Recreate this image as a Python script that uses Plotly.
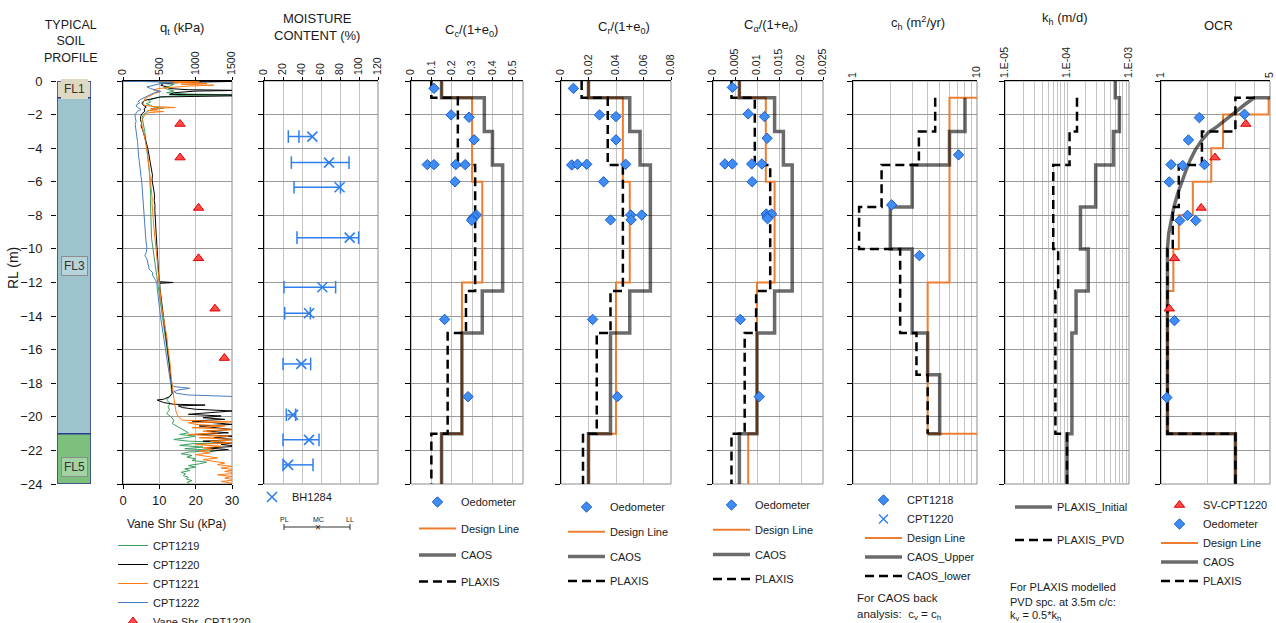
import math
import plotly.graph_objects as go

# ---------------------------------------------------------------- data
SOIL_NAME = ["FL1", "FL3", "FL5"]
SOIL_TOP = [0, -1, -21]
SOIL_BOT = [-1, -21, -24]
SOIL_LABEL_RL = [-0.5, -11, -23]
SOIL_FILL = ["#ddd9c3", "#9dc3cd", "#7dbf7d"]
SOIL_LABEL_BG = ["#ddd9c3", "#b7d4db", "#a3d2a3"]

# CPT cone resistance profiles: (RL m, qt kPa)
CPT1219 = [(0.0, 300), (-0.05, 600), (-0.12, 500), (-0.2, 700), (-0.3, 650), (-0.4, 560), (-0.5, 620),
           (-0.6, 700), (-0.7, 600), (-0.78, 900), (-0.82, 1600), (-0.86, 800), (-0.95, 500), (-1.05, 420),
           (-1.15, 350), (-1.25, 380), (-1.35, 320), (-1.45, 380), (-1.55, 420), (-1.62, 560), (-1.7, 400),
           (-1.8, 340), (-1.9, 300), (-2.0, 280), (-2.2, 265), (-2.4, 270), (-2.6, 285), (-2.8, 290),
           (-3.0, 300), (-3.3, 305), (-3.6, 315), (-3.9, 320), (-4.2, 330), (-4.5, 340), (-4.8, 350),
           (-5.1, 355), (-5.4, 362), (-5.7, 368), (-6.0, 372), (-6.3, 378), (-6.6, 385), (-6.9, 382),
           (-7.2, 378), (-7.5, 380), (-7.8, 376), (-8.1, 378), (-8.4, 382), (-8.7, 380), (-9.0, 384),
           (-9.3, 392), (-9.6, 400), (-9.9, 410), (-10.2, 420), (-10.5, 432), (-10.8, 440), (-11.1, 448),
           (-11.4, 458), (-11.7, 468), (-12.0, 478), (-12.4, 490), (-12.8, 500), (-13.2, 515), (-13.6, 525),
           (-14.0, 538), (-14.4, 552), (-14.8, 565), (-15.2, 578), (-15.6, 595), (-16.0, 610), (-16.4, 622),
           (-16.8, 632), (-17.2, 640), (-17.6, 648), (-18.0, 655), (-18.3, 662), (-18.6, 670), (-18.8, 640),
           (-19.0, 600), (-19.2, 650), (-19.4, 620), (-19.6, 640), (-19.8, 600), (-20.0, 660), (-20.2, 700),
           (-20.4, 680), (-20.6, 760), (-20.8, 820), (-20.95, 900), (-21.05, 780), (-21.15, 1000),
           (-21.25, 850), (-21.35, 700), (-21.45, 900), (-21.55, 1600), (-21.6, 950), (-21.7, 780),
           (-21.8, 1100), (-21.9, 850), (-22.0, 1300), (-22.1, 900), (-22.2, 800), (-22.3, 950), (-22.4, 880),
           (-22.5, 1000), (-22.6, 950), (-22.7, 1150), (-22.8, 1050), (-22.9, 900), (-23.0, 1000),
           (-23.1, 850), (-23.2, 920), (-23.3, 800), (-23.4, 860), (-23.5, 830), (-23.6, 900), (-23.7, 870),
           (-23.8, 950), (-23.9, 880), (-24.0, 920)]

CPT1220 = [(0.0, 0), (-0.02, 1600), (-0.08, 820), (-0.15, 560), (-0.25, 520), (-0.35, 600), (-0.45, 640),
           (-0.52, 900), (-0.56, 1600), (-0.6, 1000), (-0.7, 700), (-0.8, 640), (-0.84, 1600), (-0.88, 1600),
           (-0.95, 520), (-1.05, 380), (-1.15, 300), (-1.3, 260), (-1.45, 280), (-1.55, 320), (-1.65, 290),
           (-1.8, 300), (-1.95, 260), (-2.1, 245), (-2.3, 240), (-2.5, 255), (-2.7, 250), (-2.9, 270),
           (-3.1, 285), (-3.3, 300), (-3.5, 310), (-3.7, 325), (-3.9, 335), (-4.1, 345), (-4.4, 355),
           (-4.7, 370), (-5.0, 385), (-5.3, 395), (-5.6, 405), (-5.9, 400), (-6.2, 415), (-6.5, 425),
           (-6.8, 435), (-7.1, 430), (-7.4, 440), (-7.7, 438), (-8.0, 445), (-8.4, 448), (-8.8, 452),
           (-9.2, 458), (-9.6, 465), (-10.0, 470), (-10.4, 475), (-10.8, 478), (-11.2, 485), (-11.6, 492),
           (-11.95, 498), (-12.0, 690), (-12.05, 505), (-12.4, 510), (-12.8, 522), (-13.2, 535), (-13.6, 548),
           (-14.0, 558), (-14.4, 570), (-14.8, 582), (-15.2, 595), (-15.6, 605), (-16.0, 615), (-16.4, 628),
           (-16.8, 638), (-17.2, 648), (-17.6, 655), (-18.0, 662), (-18.3, 672), (-18.6, 680), (-18.8, 640),
           (-18.95, 560), (-19.0, 470), (-19.05, 500), (-19.15, 560), (-19.25, 700), (-19.3, 1130),
           (-19.35, 760), (-19.45, 820), (-19.55, 1000), (-19.65, 1500), (-19.75, 1200), (-19.85, 900),
           (-19.95, 1350), (-20.05, 1100), (-20.15, 1400), (-20.25, 950), (-20.35, 1250), (-20.45, 1500),
           (-20.55, 1050), (-20.65, 1300), (-20.75, 1500), (-20.85, 1150), (-20.95, 1450), (-21.05, 1000),
           (-21.15, 1500), (-21.25, 1250), (-21.35, 1550), (-21.45, 1100), (-21.55, 1500), (-21.65, 1350),
           (-21.75, 1600), (-21.85, 1150), (-21.95, 1450), (-22.05, 1200)]

CPT1221 = [(0.0, 450), (-0.05, 1050), (-0.1, 700), (-0.15, 1150), (-0.2, 800), (-0.25, 1250), (-0.3, 900),
           (-0.38, 600), (-0.45, 480), (-0.55, 420), (-0.65, 500), (-0.75, 430), (-0.85, 380), (-0.95, 330),
           (-1.05, 300), (-1.2, 290), (-1.35, 275), (-1.45, 300), (-1.52, 420), (-1.58, 720), (-1.64, 380),
           (-1.7, 480), (-1.76, 340), (-1.82, 560), (-1.88, 360), (-1.95, 320), (-2.1, 290), (-2.3, 265),
           (-2.5, 255), (-2.7, 265), (-2.9, 270), (-3.1, 285), (-3.4, 300), (-3.7, 315), (-4.0, 328),
           (-4.3, 338), (-4.6, 345), (-4.9, 352), (-5.2, 360), (-5.5, 368), (-5.8, 375), (-6.1, 385),
           (-6.4, 392), (-6.7, 398), (-7.0, 402), (-7.3, 400), (-7.6, 408), (-7.9, 412), (-8.2, 416),
           (-8.5, 420), (-8.8, 428), (-9.1, 432), (-9.4, 440), (-9.7, 450), (-10.0, 458), (-10.3, 465),
           (-10.6, 470), (-10.9, 475), (-11.2, 480), (-11.5, 486), (-11.8, 492), (-12.1, 500), (-12.5, 508),
           (-12.9, 515), (-13.3, 528), (-13.7, 542), (-14.1, 558), (-14.5, 575), (-14.9, 595), (-15.3, 605),
           (-15.7, 612), (-16.1, 628), (-16.5, 642), (-16.9, 650), (-17.3, 655), (-17.7, 664), (-18.1, 672),
           (-18.5, 686), (-18.9, 700), (-19.3, 715), (-19.7, 730), (-20.0, 760), (-20.2, 820), (-20.3, 1500),
           (-20.35, 900), (-20.45, 1000), (-20.55, 1400), (-20.65, 950), (-20.75, 1600), (-20.85, 1100),
           (-20.95, 1300), (-21.05, 900), (-21.15, 1450), (-21.25, 1050), (-21.35, 1600), (-21.45, 1200),
           (-21.55, 1500), (-21.65, 1000), (-21.75, 1350), (-21.85, 1100), (-21.95, 1250), (-22.05, 1050),
           (-22.15, 1200), (-22.25, 1000), (-22.35, 1150), (-22.45, 1300), (-22.55, 1100), (-22.65, 1250),
           (-22.75, 1400), (-22.85, 1300), (-22.95, 1500), (-23.05, 1350), (-23.15, 1550), (-23.25, 1400),
           (-23.35, 1600), (-23.45, 1300), (-23.55, 1500), (-23.65, 1400), (-23.75, 1550), (-23.85, 1350),
           (-23.95, 1500), (-24.0, 1450)]

CPT1222 = [(0.0, 0), (-0.03, 350), (-0.08, 700), (-0.15, 520), (-0.25, 420), (-0.35, 330), (-0.45, 380),
           (-0.55, 450), (-0.62, 520), (-0.7, 430), (-0.8, 380), (-0.9, 330), (-1.0, 300), (-1.1, 240),
           (-1.2, 210), (-1.3, 230), (-1.4, 190), (-1.5, 180), (-1.6, 215), (-1.7, 250), (-1.8, 200),
           (-1.9, 175), (-2.0, 165), (-2.2, 170), (-2.4, 180), (-2.6, 168), (-2.8, 175), (-3.0, 185),
           (-3.3, 190), (-3.6, 200), (-3.9, 205), (-4.2, 208), (-4.5, 215), (-4.8, 225), (-5.1, 230),
           (-5.4, 238), (-5.7, 248), (-6.0, 258), (-6.3, 262), (-6.6, 268), (-6.9, 272), (-7.2, 276),
           (-7.5, 280), (-7.8, 284), (-8.1, 288), (-8.4, 292), (-8.7, 298), (-9.0, 305), (-9.3, 312),
           (-9.6, 318), (-9.9, 328), (-10.2, 320), (-10.4, 300), (-10.6, 330), (-10.9, 345), (-11.2, 360),
           (-11.4, 405), (-11.6, 410), (-11.8, 440), (-12.0, 465), (-12.4, 472), (-12.8, 480), (-13.2, 490),
           (-13.6, 505), (-14.0, 515), (-14.4, 530), (-14.8, 545), (-15.2, 555), (-15.6, 568), (-16.0, 582),
           (-16.4, 600), (-16.8, 620), (-17.2, 632), (-17.6, 645), (-18.0, 656), (-18.2, 700), (-18.3, 920),
           (-18.4, 760), (-18.5, 700), (-18.6, 740), (-18.7, 900), (-18.8, 1600)]

VANE_RL = [-2.56, -4.56, -7.56, -10.56, -13.56, -16.5]
VANE_SU = [15.7, 15.7, 20.8, 20.8, 25.3, 27.9]

# moisture content with plastic / liquid limits (BH1284)
MC_RL = [-3.31, -4.86, -6.33, -9.33, -12.28, -13.83, -16.85, -19.88, -21.37, -22.86]
MC_PL = [25.6, 28.8, 31.6, 34.7, 21.0, 21.8, 20.0, 23.5, 20.0, 20.0]
MC_W = [50.9, 68.4, 79.6, 90.2, 61.4, 47.4, 39.3, 30.5, 47.4, 25.3]
MC_LL = [36.8, 89.5, 80.5, 99.6, 75.4, 48.8, 49.1, 33.3, 57.9, 51.6]

# compression index
CC_OED_RL = [-0.44, -2.02, -2.16, -3.5, -4.98, -4.98, -4.98, -4.98, -6.0, -7.98, -8.08, -8.22, -8.3, -14.2, -18.8]
CC_OED = [0.113, 0.197, 0.285, 0.31, 0.08, 0.113, 0.22, 0.266, 0.216, 0.321, 0.31, 0.30, 0.298, 0.165, 0.28]
CC_DESIGN_RL = [0, -1, -6, -12, -21, -24]
CC_DESIGN = [0.15, 0.30, 0.35, 0.25, 0.15, 0.15]
CC_CAOS_RL = [0, -1, -3, -5, -12.5, -15, -21, -24]
CC_CAOS = [0.15, 0.36, 0.40, 0.45, 0.35, 0.25, 0.15, 0.15]
CC_PLAXIS_RL = [0, -1, -5, -12.5, -15, -21, -24]
CC_PLAXIS = [0.10, 0.23, 0.315, 0.27, 0.18, 0.10, 0.10]

# recompression index
CR_OED_RL = [-0.44, -2.02, -2.12, -3.5, -5.0, -4.96, -4.96, -4.96, -6.0, -7.98, -7.98, -8.27, -8.27, -14.2, -18.8]
CR_OED = [0.009, 0.028, 0.040, 0.040, 0.0078, 0.012, 0.0187, 0.047, 0.031, 0.0507, 0.0587, 0.051, 0.036, 0.023, 0.041]
CR_DESIGN_RL = [0, -1, -6, -12, -21, -24]
CR_DESIGN = [0.02, 0.045, 0.05, 0.04, 0.02, 0.02]
CR_CAOS_RL = [0, -1, -3, -5, -12.5, -15, -21, -24]
CR_CAOS = [0.02, 0.05, 0.0575, 0.065, 0.05, 0.036, 0.02, 0.02]
CR_PLAXIS_RL = [0, -1, -5, -12.5, -15, -21, -24]
CR_PLAXIS = [0.015, 0.034, 0.045, 0.036, 0.026, 0.016, 0.016]

# secondary compression index
CA_OED_RL = [-0.38, -1.96, -2.12, -3.41, -4.94, -4.94, -4.94, -4.94, -6.0, -7.92, -7.92, -8.1, -8.2, -14.2, -18.8]
CA_OED = [0.0044, 0.008, 0.0117, 0.0123, 0.0027, 0.0044, 0.0088, 0.0111, 0.0089, 0.0121, 0.0133, 0.0123, 0.0124, 0.0062, 0.0105]
CA_DESIGN_RL = [0, -1, -6, -12, -21, -24]
CA_DESIGN = [0.006, 0.012, 0.014, 0.010, 0.008, 0.008]
CA_CAOS_RL = [0, -1, -3, -5, -12.5, -15, -21, -24]
CA_CAOS = [0.006, 0.014, 0.016, 0.018, 0.014, 0.010, 0.006, 0.006]
CA_PLAXIS_RL = [0, -1, -5, -12.5, -15, -21, -24]
CA_PLAXIS = [0.0042, 0.0095, 0.013, 0.0098, 0.0072, 0.0042, 0.0042]

# horizontal coefficient of consolidation
CH_1218_RL = [-4.4, -7.38, -10.4]
CH_1218 = [7.1, 2.05, 3.43]
CH_1220_RL = [-14.4]
CH_1220 = [10.1]
CH_DESIGN_RL = [-1, -1, -12, -21]
CH_DESIGN = [10, 6, 4, 10]
CH_UPPER_RL = [-1, -3, -5, -7.5, -10, -15, -17.5, -21]
CH_UPPER = [8, 6, 3, 2, 3, 4, 5, 4]
CH_LOWER_RL = [-1, -3, -5, -7.5, -10, -15, -17.5, -21]
CH_LOWER = [4.6, 3.4, 1.7, 1.12, 2.4, 3.25, 4.0, 4.0]

# horizontal permeability
KH_INIT_RL = [0, -1, -3, -5, -7.5, -10, -12.5, -15, -21, -24]
KH_INIT = [6.0e-4, 7.0e-4, 5.6e-4, 2.9e-4, 1.65e-4, 2.2e-4, 1.4e-4, 1.2e-4, 1.0e-4, 1.0e-4]
KH_PVD_RL = [-1, -3, -5, -10, -12.5, -21, -24]
KH_PVD = [1.45e-4, 1.1e-4, 6.0e-5, 7.2e-5, 6.5e-5, 1.0e-4, 1.0e-4]

# over-consolidation ratio
OCR_SV_RL = [-2.56, -4.56, -7.56, -10.56, -13.56]
OCR_SV = [3.5, 2.22, 1.81, 1.22, 1.13]
OCR_OED_RL = [-1.98, -2.18, -3.51, -4.98, -5.04, -4.98, -6.01, -8.0, -8.31, -8.31, -14.27, -18.85]
OCR_OED = [3.43, 1.76, 1.5, 1.16, 1.38, 1.9, 1.13, 1.48, 1.32, 1.67, 1.22, 1.09]
OCR_DESIGN_RL = [-1, -2, -4, -6, -8, -10, -12.5, -21, -24]
OCR_DESIGN = [4.9, 2.5, 2.1, 1.6, 1.3, 1.2, 1.1, 3.0, 3.0]
OCR_CAOS_RL = [-1.0, -1.0, -1.4, -1.85, -2.35, -2.7, -3.05, -3.55, -4.1, -4.7, -5.3, -6.0, -6.7, -7.5,
               -8.3, -9.1, -10.0, -21.0, -21.0, -24.0]
OCR_CAOS = [5.0, 3.95, 3.45, 3.0, 2.6, 2.3, 2.02, 1.82, 1.66, 1.54, 1.45, 1.36, 1.28, 1.21,
            1.16, 1.12, 1.1, 1.1, 3.0, 3.0]
OCR_PLAXIS_RL = [-1, -1, -3, -5, -7.5, -10, -21, -24]
OCR_PLAXIS = [4.0, 3.0, 1.83, 1.3, 1.19, 1.1, 3.0, 3.0]

# ---------------------------------------------------------------- style
FONT = "Liberation Sans, Arial, sans-serif"
TXT = "#1a1a1a"
W, H = 1276, 623
Y_TOP, Y_BOT = 81, 484
PANELS = [(57, 91), (123, 232), (264, 378), (411, 523), (561, 671), (713, 823), (853, 977), (1005, 1129), (1161, 1270)]

ORANGE = "#ed7d31"
CAOS_C = "rgba(0,0,0,0.58)"
PT_FILL = "#3f8cf5"
PT_EDGE = "#1b5ec9"
RED_FILL = "#ff4a4a"
RED_EDGE = "#e00000"
GRID_H = "#9a9a9a"
GRID_V = "#c3c3c3"
DASH = "9px,5px"


def fx(p):
    return p / W


def fy(p):
    return 1 - p / H


def xk(i):
    return "xaxis" if i == 1 else f"xaxis{i}"


def yk(i):
    return "yaxis" if i == 1 else f"yaxis{i}"


def xr(i):
    return "x" if i == 1 else f"x{i}"


def yr(i):
    return "y" if i == 1 else f"y{i}"


fig = go.Figure()


def add(tr, i):
    tr.update(xaxis=xr(i), yaxis=yr(i))
    fig.add_trace(tr)


# ---- soil column
for name, top, bot, col in zip(SOIL_NAME, SOIL_TOP, SOIL_BOT, SOIL_FILL):
    add(go.Scatter(x=[0, 1, 1, 0, 0], y=[top, top, bot, bot, top], mode="lines", fill="toself",
                   fillcolor=col, line=dict(color="#2b3990", width=1.5), showlegend=False,
                   hoverinfo="skip"), 1)

# ---- CPT qt
CPT_SERIES = [("CPT1219", CPT1219, "#3a9e5f"), ("CPT1220", CPT1220, "#000000"),
              ("CPT1221", CPT1221, "#ff7a12"), ("CPT1222", CPT1222, "#4a7cc0")]
for k, (name, data, col) in enumerate(CPT_SERIES):
    add(go.Scatter(x=[q for _, q in data], y=[d for d, _ in data], mode="lines", name=name,
                   line=dict(color=col, width=1), legend="legend", legendrank=k + 1), 2)
fig.add_trace(go.Scatter(x=VANE_SU, y=VANE_RL, mode="markers", name="Vane Shr_CPT1220",
                         marker=dict(symbol="triangle-up", size=9, color=RED_FILL,
                                     line=dict(color=RED_EDGE, width=1)), cliponaxis=False,
                         xaxis="x10", yaxis="y2", legend="legend", legendrank=5))

# ---- moisture content
bar_x, bar_y, cap_x, cap_y = [], [], [], []
for d, pl, w, ll in zip(MC_RL, MC_PL, MC_W, MC_LL):
    bar_x += [pl, w, ll, None]
    bar_y += [d, d, d, None]
    cap_x += [pl, ll]
    cap_y += [d, d]
add(go.Scatter(x=bar_x, y=bar_y, mode="lines", line=dict(color="#2f7ff0", width=1.5),
               showlegend=False, hoverinfo="skip"), 3)
add(go.Scatter(x=cap_x, y=cap_y, mode="markers", showlegend=False, hoverinfo="skip",
               marker=dict(symbol="line-ns", size=9, line=dict(color="#2f7ff0", width=1.5))), 3)
add(go.Scatter(x=MC_W, y=MC_RL, mode="markers", name="BH1284", legend="legend2",
               marker=dict(symbol="x-thin", size=10, line=dict(color="#2f7ff0", width=1.6))), 3)


def profile_set(i, leg, d_rl, d_v, c_rl, c_v, p_rl, p_v, o_rl, o_v):
    add(go.Scatter(x=d_v, y=d_rl, mode="lines", line_shape="vh", name="Design Line",
                   line=dict(color=ORANGE, width=2), legend=leg, legendgroup=leg + "d",
                   legendrank=2), i)
    add(go.Scatter(x=c_v, y=c_rl, mode="lines", line_shape="vh", name="CAOS",
                   line=dict(color=CAOS_C, width=3.5), legend=leg, legendgroup=leg + "c",
                   legendrank=3), i)
    add(go.Scatter(x=p_v, y=p_rl, mode="lines", line_shape="vh", name="PLAXIS",
                   line=dict(color="black", width=2.5, dash=DASH), legend=leg,
                   legendgroup=leg + "p", legendrank=4), i)
    add(go.Scatter(x=o_v, y=o_rl, mode="markers", name="Oedometer", cliponaxis=False,
                   marker=dict(symbol="diamond", size=8, color=PT_FILL,
                               line=dict(color=PT_EDGE, width=1)),
                   legend=leg, legendgroup=leg + "o", legendrank=1), i)


profile_set(4, "legend3", CC_DESIGN_RL, CC_DESIGN, CC_CAOS_RL, CC_CAOS, CC_PLAXIS_RL, CC_PLAXIS,
            CC_OED_RL, CC_OED)
profile_set(5, "legend4", CR_DESIGN_RL, CR_DESIGN, CR_CAOS_RL, CR_CAOS, CR_PLAXIS_RL, CR_PLAXIS,
            CR_OED_RL, CR_OED)
profile_set(6, "legend5", CA_DESIGN_RL, CA_DESIGN, CA_CAOS_RL, CA_CAOS, CA_PLAXIS_RL, CA_PLAXIS,
            CA_OED_RL, CA_OED)

# ---- ch
add(go.Scatter(x=CH_DESIGN, y=CH_DESIGN_RL, mode="lines", line_shape="vh", name="Design Line",
               line=dict(color=ORANGE, width=2), legend="legend6", legendrank=3), 7)
add(go.Scatter(x=CH_UPPER, y=CH_UPPER_RL, mode="lines", line_shape="vh", name="CAOS_Upper",
               line=dict(color=CAOS_C, width=3.5), legend="legend6", legendrank=4), 7)
add(go.Scatter(x=CH_LOWER, y=CH_LOWER_RL, mode="lines", line_shape="vh", name="CAOS_lower",
               line=dict(color="black", width=2.5, dash=DASH), legend="legend6", legendrank=5), 7)
add(go.Scatter(x=CH_1218, y=CH_1218_RL, mode="markers", name="CPT1218", cliponaxis=False,
               marker=dict(symbol="diamond", size=8, color=PT_FILL, line=dict(color=PT_EDGE, width=1)),
               legend="legend6", legendrank=1), 7)
add(go.Scatter(x=CH_1220, y=CH_1220_RL, mode="markers", name="CPT1220", cliponaxis=False,
               marker=dict(symbol="x-thin", size=9, line=dict(color="#2f7ff0", width=1.4)),
               legend="legend6", legendrank=2), 7)

# ---- kh
add(go.Scatter(x=KH_INIT, y=KH_INIT_RL, mode="lines", line_shape="vh", name="PLAXIS_Initial",
               line=dict(color=CAOS_C, width=3.5), legend="legend7", legendgroup="khi",
               legendrank=1), 8)
add(go.Scatter(x=KH_PVD, y=KH_PVD_RL, mode="lines", line_shape="vh", name="PLAXIS_PVD",
               line=dict(color="black", width=2.5, dash=DASH), legend="legend7", legendgroup="khp",
               legendrank=2), 8)

# ---- OCR
add(go.Scatter(x=OCR_DESIGN, y=OCR_DESIGN_RL, mode="lines", line_shape="vh", name="Design Line",
               line=dict(color=ORANGE, width=2), legend="legend8", legendrank=3), 9)
add(go.Scatter(x=OCR_CAOS, y=OCR_CAOS_RL, mode="lines", name="CAOS",
               line=dict(color=CAOS_C, width=3.5), legend="legend8", legendrank=4), 9)
add(go.Scatter(x=OCR_PLAXIS, y=OCR_PLAXIS_RL, mode="lines", line_shape="vh", name="PLAXIS",
               line=dict(color="black", width=2.5, dash=DASH), legend="legend8", legendrank=5), 9)
add(go.Scatter(x=OCR_SV, y=OCR_SV_RL, mode="markers", name="SV-CPT1220", cliponaxis=False,
               marker=dict(symbol="triangle-up", size=9, color=RED_FILL, line=dict(color=RED_EDGE, width=1)),
               legend="legend8", legendrank=1), 9)
add(go.Scatter(x=OCR_OED, y=OCR_OED_RL, mode="markers", name="Oedometer", cliponaxis=False,
               marker=dict(symbol="diamond", size=8, color=PT_FILL, line=dict(color=PT_EDGE, width=1)),
               legend="legend8", legendrank=2), 9)

# ---------------------------------------------------------------- axes
layout = dict(width=W, height=H, margin=dict(l=0, r=0, t=0, b=0, autoexpand=False),
              paper_bgcolor="white", plot_bgcolor="white",
              font=dict(family=FONT, size=12, color=TXT), hovermode=False)

TICK_FONT = dict(family=FONT, size=10.5, color=TXT)
X_SPECS = {
    2: dict(range=[0, 1500], tickvals=[0, 500, 1000, 1500]),
    3: dict(range=[0, 120], tickvals=[0, 20, 40, 60, 80, 100, 120]),
    4: dict(range=[0, 0.55], tickvals=[0, 0.1, 0.2, 0.3, 0.4, 0.5],
            ticktext=["0", "0.1", "0.2", "0.3", "0.4", "0.5"]),
    5: dict(range=[0, 0.08], tickvals=[0, 0.02, 0.04, 0.06, 0.08],
            ticktext=["0", "0.02", "0.04", "0.06", "0.08"]),
    6: dict(range=[0, 0.025], tickvals=[0, 0.005, 0.01, 0.015, 0.02, 0.025],
            ticktext=["0", "0.005", "0.01", "0.015", "0.02", "0.025"]),
    7: dict(type="log", range=[0, 1], tickvals=list(range(1, 11)),
            ticktext=["1"] + [""] * 8 + ["10"], ticks=""),
    8: dict(type="log", range=[-5, -3],
            tickvals=[k * 1e-5 for k in range(1, 10)] + [k * 1e-4 for k in range(1, 11)],
            ticktext=["1.E-05"] + [""] * 8 + ["1.E-04"] + [""] * 8 + ["1.E-03"], ticks=""),
    9: dict(type="log", range=[0, math.log10(5)], tickvals=[1, 2, 3, 4, 5],
            ticktext=["1", "", "", "", "5"], ticks=""),
}

for i, (a, b) in enumerate(PANELS, start=1):
    xa = dict(domain=[fx(a), fx(b)], anchor=yr(i), side="top", showline=True, linecolor="black",
              linewidth=1, ticks="outside", ticklen=3, tickcolor="black", tickangle=-90,
              tickfont=TICK_FONT, showgrid=True, gridcolor=GRID_V, gridwidth=1, zeroline=False,
              fixedrange=True)
    if i == 1:
        xa.update(visible=False, range=[0, 1])
    else:
        xa.update(X_SPECS[i])
    layout[xk(i)] = xa
    layout[yk(i)] = dict(domain=[fy(Y_BOT), fy(Y_TOP)], anchor=xr(i), range=[-24, 0], tick0=0,
                         dtick=2, ticks="outside", ticklen=5, tickcolor="black",
                         showline=(i != 1), linecolor="black", linewidth=1,
                         showgrid=(i != 1), gridcolor=GRID_H, gridwidth=1, zeroline=False,
                         showticklabels=(i == 1), tickfont=dict(family=FONT, size=13, color=TXT),
                         ticklabelstandoff=6, fixedrange=True)

layout["xaxis10"] = dict(overlaying="x2", side="bottom", anchor="y2", range=[0, 30],
                         tickvals=[0, 10, 20, 30], showgrid=False, zeroline=False, showline=True,
                         linecolor="black", linewidth=1, ticks="outside", ticklen=4,
                         tickcolor="black", tickfont=dict(family=FONT, size=13, color=TXT),
                         fixedrange=True)

# panel frames
shapes = []
for i in range(2, 10):
    shapes.append(dict(type="rect", xref=f"{xr(i)} domain", yref=f"{yr(i)} domain",
                       x0=0, x1=1, y0=0, y1=1, line=dict(color="#8c8c8c", width=1), layer="below"))

# PL / MC / LL key under the moisture panel
KEY_Y = fy(527)
shapes.append(dict(type="line", xref="paper", yref="paper", x0=fx(284), x1=fx(350), y0=KEY_Y, y1=KEY_Y,
                   line=dict(color="#333", width=1)))
for kx in (284, 350):
    shapes.append(dict(type="line", xref="paper", yref="paper", x0=fx(kx), x1=fx(kx),
                       y0=fy(524), y1=fy(530), line=dict(color="#333", width=1)))
layout["shapes"] = shapes

# ---------------------------------------------------------------- text
ann = []


def note(text, x, y, size=13, xanchor="center", **kw):
    ann.append(dict(text=text, x=fx(x), y=fy(y), xref="paper", yref="paper", showarrow=False,
                    xanchor=xanchor, yanchor="middle", font=dict(family=FONT, size=size, color=TXT), **kw))


note("TYPICAL<br>SOIL<br>PROFILE", 71, 42, size=12.5)
note("q<sub>t</sub> (kPa)", 182, 28)
note("MOISTURE<br>CONTENT (%)", 317, 27)
note("C<sub>c</sub>/(1+e<sub>0</sub>)", 471, 31)
note("C<sub>r</sub>/(1+e<sub>0</sub>)", 624, 27)
note("C<sub>α</sub>/(1+e<sub>0</sub>)", 771, 25)
note("c<sub>h</sub> (m<sup>2</sup>/yr)", 918, 23)
note("k<sub>h</sub> (m/d)", 1065, 18)
note("OCR", 1218, 25)
note("RL (m)", 13, 268, size=14, textangle=-90)
note("Vane Shr Su (kPa)", 176, 524, size=12)
note("For CAOS back", 855, 598, size=11.5, xanchor="left")
note("analysis:  c<sub>v</sub> = c<sub>h</sub>", 855, 615, size=11.5, xanchor="left")
note("For PLAXIS modelled", 1008, 587, size=11, xanchor="left")
note("PVD spc. at 3.5m c/c:", 1008, 602, size=11, xanchor="left")
note("k<sub>v</sub> = 0.5*k<sub>h</sub>", 1008, 616, size=11, xanchor="left")
note("PL", 284, 519, size=7)
note("MC", 318, 519, size=7)
note("LL", 350, 519, size=7)
note("×", 318, 527, size=10)

for name, rl, bg in zip(SOIL_NAME, SOIL_LABEL_RL, SOIL_LABEL_BG):
    ann.append(dict(text=name, x=0.5, y=rl, xref="x", yref="y", showarrow=False,
                    font=dict(family=FONT, size=12, color="#333"), bgcolor=bg,
                    bordercolor=("#8c8c8c" if name != "FL1" else bg), borderwidth=1, borderpad=2))
layout["annotations"] = ann


# ---------------------------------------------------------------- legends
def legend(x, top, iw=37, gap=0, grouped=False):
    return dict(x=fx(x), y=fy(top), xref="paper", yref="paper", xanchor="left", yanchor="top",
                bgcolor="rgba(0,0,0,0)", borderwidth=0, itemwidth=iw, tracegroupgap=gap,
                traceorder="grouped" if grouped else "normal",
                font=dict(family=FONT, size=11, color=TXT), itemclick=False, itemdoubleclick=False)


layout["legend"] = legend(113, 531, iw=30)
layout["legend2"] = legend(252, 482.5, iw=30)
layout["legend3"] = legend(414, 487.5, gap=7.5, grouped=True)
layout["legend4"] = legend(563, 492.5, gap=5.7, grouped=True)
layout["legend5"] = legend(708, 490.5, gap=5.7, grouped=True)
layout["legend6"] = legend(860, 485.5)
layout["legend7"] = legend(1010, 492.5, gap=14, grouped=True)
layout["legend8"] = legend(1156, 490.5)

fig.update_layout(**layout)
fig.write_html("out.html")
